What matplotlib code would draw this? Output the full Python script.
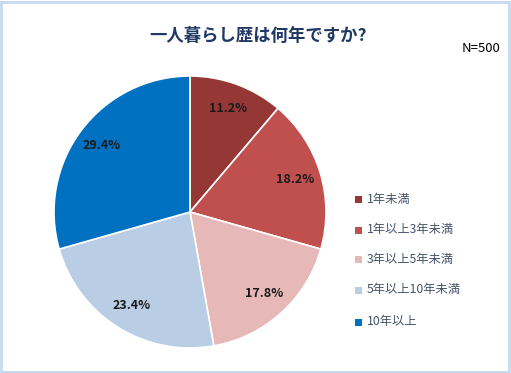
import matplotlib
matplotlib.use("Agg")
import matplotlib.pyplot as plt
from matplotlib.patches import Rectangle

plt.rcParams['font.family'] = ['Noto Sans CJK JP', 'DejaVu Sans']

categories = ["1年未満", "1年以上3年未満", "3年以上5年未満", "5年以上10年未満", "10年以上"]
values = [11.2, 18.2, 17.8, 23.4, 29.4]
colors = ["#953735", "#C0504D", "#E6B9B8", "#B9CDE5", "#0070C0"]
title = "一人暮らし歴は何年ですか?"
note = "N=500"

W, H = 511, 373
fig = plt.figure(figsize=(W/100, H/100), dpi=100)
fig.patches.append(Rectangle((0.002, 0.003), 0.994, 0.992, transform=fig.transFigure,
                             fill=False, edgecolor="#C6D9F1", linewidth=2))

cx, cy, r = 190, 212, 136
ax = fig.add_axes([(cx - r)/W, 1 - (cy + r)/H, 2*r/W, 2*r/H])
wedges, texts, autotexts = ax.pie(values, colors=colors, startangle=90, counterclock=False,
                                  autopct=lambda p: f"{p:.1f}%", pctdistance=0.81,
                                  wedgeprops=dict(edgecolor="white", linewidth=1.2))
for t in autotexts:
    t.set_fontsize(9)
    t.set_fontweight("bold")
    t.set_color("#1a1a1a")
ax.set_xlim(-1, 1)
ax.set_ylim(-1, 1)
ax.set_aspect("equal")

fig.text(258/W, 1 - 36/H, title, ha="center", va="center", fontsize=12.5,
         fontweight="bold", color="#1F3864")
fig.text(500/W, 1 - 48/H, note, ha="right", va="center", fontsize=9.5, color="#000000")

ys = [199, 230, 259, 290, 322]
for lab, col, y in zip(categories, colors, ys):
    fig.patches.append(Rectangle(((358 - 3.5)/W, 1 - (y + 3.5)/H), 7/W, 7/H,
                                 transform=fig.transFigure, facecolor=col, edgecolor="none"))
    fig.text(367/W, 1 - y/H, lab, ha="left", va="center", fontsize=8.8, color="#44546A")

fig.savefig("out.png", dpi=100)
